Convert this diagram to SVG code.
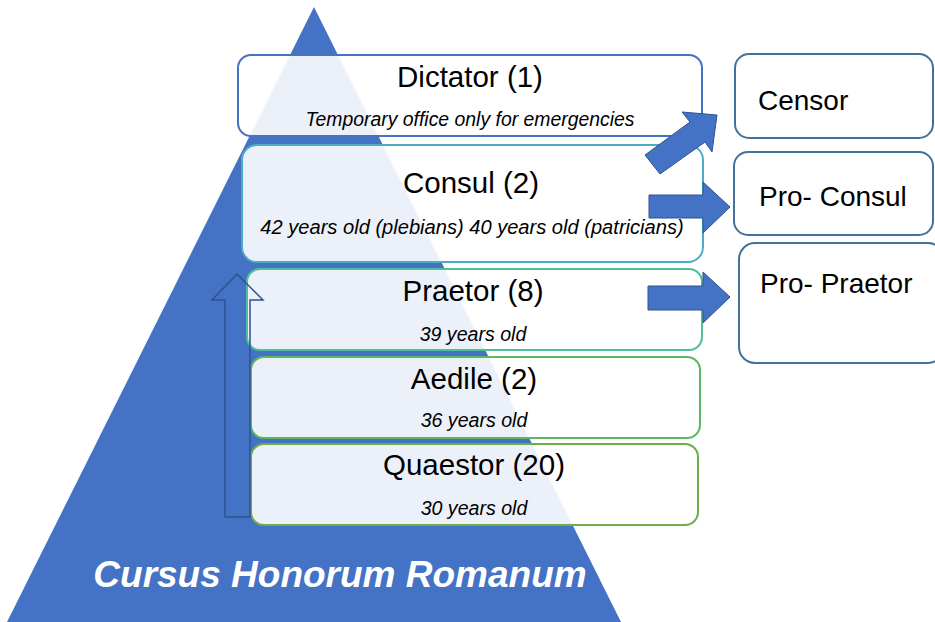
<svg xmlns="http://www.w3.org/2000/svg" width="935" height="622" viewBox="0 0 935 622">
<style>
.box{fill:#ffffff;fill-opacity:0.9;stroke-width:2}
.rbox{fill:#ffffff;stroke:#41719c;stroke-width:2}
.t{font-family:"Liberation Sans",Arial,sans-serif;font-size:29.5px;fill:#000;text-anchor:middle}
.s{font-family:"Liberation Sans",Arial,sans-serif;font-size:19.6px;font-style:italic;fill:#000;text-anchor:middle}
.r{font-family:"Liberation Sans",Arial,sans-serif;font-size:28px;fill:#000}
.arr{fill:#4472c4;stroke:#2f528f;stroke-width:1}
</style>
<rect width="935" height="622" fill="#ffffff"/>
<polygon id="pyramid" points="314,7 7,622 621,622" fill="#4472c4"/>
<text x="340" y="587" font-family="Liberation Sans,Arial,sans-serif" font-size="37" font-weight="bold" font-style="italic" fill="#ffffff" text-anchor="middle">Cursus Honorum Romanum</text>
<g id="dictator">
<rect class="box" x="238" y="55" width="464" height="81" rx="13" stroke="#4472c4"/>
<text class="t" x="470" y="87">Dictator (1)</text>
<text class="s" x="470" y="126" style="font-size:19.4px">Temporary office only for emergencies</text>
</g>
<g id="consul">
<rect class="box" x="242" y="145" width="461" height="117" rx="15" stroke="#4bacc6"/>
<text class="t" x="471" y="193">Consul (2)</text>
<text class="s" x="472" y="234" style="font-size:20.1px">42 years old (plebians) 40 years old (patricians)</text>
</g>
<g id="praetor">
<rect class="box" x="247" y="269" width="455" height="81" rx="13" stroke="#4fbf9a"/>
<text class="t" x="473" y="301">Praetor (8)</text>
<text class="s" x="473" y="341">39 years old</text>
</g>
<g id="aedile">
<rect class="box" x="251" y="357" width="449" height="81" rx="13" stroke="#5cb860"/>
<text class="t" x="474" y="389">Aedile (2)</text>
<text class="s" x="474" y="427">36 years old</text>
</g>
<g id="quaestor">
<rect class="box" x="251" y="444" width="447" height="81" rx="13" stroke="#70ad47"/>
<text class="t" x="474" y="475">Quaestor (20)</text>
<text class="s" x="474" y="515">30 years old</text>
</g>
<g id="censor">
<rect class="rbox" x="735" y="54" width="198" height="84" rx="14"/>
<text class="r" x="758" y="110">Censor</text>
</g>
<g id="proconsul">
<rect class="rbox" x="734" y="152" width="199" height="83" rx="14"/>
<text class="r" x="759" y="206">Pro- Consul</text>
</g>
<g id="propraetor">
<rect class="rbox" x="739" y="243" width="205" height="120" rx="16"/>
<text class="r" x="760" y="293">Pro- Praetor</text>
</g>
<g id="connectors">
<polygon points="225,517 225,300 212,300 237,274 263,300 250,300 250,517" fill="none" stroke="#2f528f" stroke-width="1.5"/>
<polygon class="arr" points="645,155 690,122 682,112 717,115 712,152 705,142 660,174"/>
<polygon class="arr" points="649,195 703,195 703,182 730,207 703,233 703,218 649,218"/>
<polygon class="arr" points="648,286 703,286 703,272 730,297 703,323 703,310 648,310"/>
</g>
</svg>
